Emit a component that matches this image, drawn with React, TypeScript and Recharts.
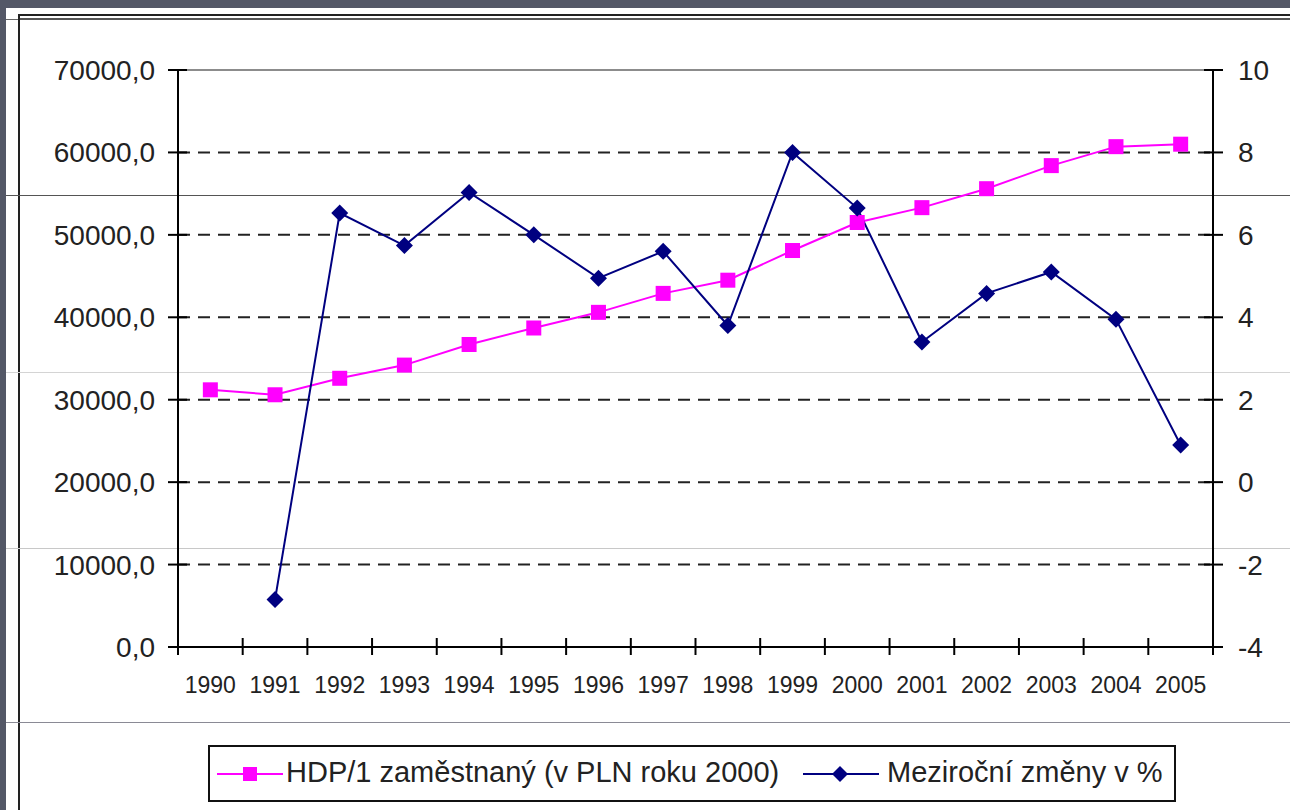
import React from 'react';
import { ComposedChart, Line, XAxis, YAxis, ReferenceLine } from 'recharts';

const years = ['1990', '1991', '1992', '1993', '1994', '1995', '1996', '1997', '1998', '1999', '2000', '2001', '2002', '2003', '2004', '2005'];
const hdpValues = [31200, 30600, 32600, 34200, 36700, 38700, 40600, 42900, 44500, 48100, 51500, 53300, 55600, 58400, 60700, 61000];
const changeValues: (number | null)[] = [null, -2.85, 6.53, 5.74, 7.03, 6.0, 4.95, 5.6, 3.8, 8.0, 6.65, 3.4, 4.58, 5.1, 3.95, 0.9];
const leftTicks = [0, 10000, 20000, 30000, 40000, 50000, 60000, 70000];
const rightTicks = [-4, -2, 0, 2, 4, 6, 8, 10];
const gridValues = [10000, 20000, 30000, 40000, 50000, 60000];
const seriesNames = ['HDP/1 zaměstnaný (v PLN roku 2000)', 'Meziroční změny v %'];

const data = years.map((year, i) => ({ year, hdp: hdpValues[i], change: changeValues[i] }));

const W = 1290;
const H = 810;
const LEFT_W = 178;
const RIGHT_W = 77;
const TOP = 70;
const X_H = 40;
const BOTTOM = 123;
const PLOT_W = W - LEFT_W - RIGHT_W;
const BAND = PLOT_W / years.length;
const FONT = '"Liberation Sans", Arial, sans-serif';
const TEXT = '#222';
const PINK = '#ff00ff';
const NAVY = '#000080';

const fmt = (v: number) => v.toFixed(1).replace('.', ',');

const LeftTick = (p: any) => (
  <g>
    <line x1={p.x - 10} x2={p.x + 9} y1={p.y} y2={p.y} stroke="#000" strokeWidth={2} />
    <text x={p.x - 23} y={p.y} dy={10} textAnchor="end" fontSize={28} fill={TEXT} fontFamily={FONT}>
      {fmt(p.payload.value)}
    </text>
  </g>
);

const RightTick = (p: any) => (
  <g>
    <line x1={p.x - 9} x2={p.x + 10} y1={p.y} y2={p.y} stroke="#000" strokeWidth={2} />
    <text x={p.x + 25} y={p.y} dy={10} textAnchor="start" fontSize={28} fill={TEXT} fontFamily={FONT}>
      {p.payload.value}
    </text>
  </g>
);

const BottomTick = (p: any) => {
  const l = p.x - BAND / 2;
  const r = p.x + BAND / 2;
  return (
    <g>
      <line x1={l} x2={l} y1={p.y - 9} y2={p.y + 8} stroke="#000" strokeWidth={2} />
      {p.index === years.length - 1 && (
        <line x1={r} x2={r} y1={p.y - 9} y2={p.y + 8} stroke="#000" strokeWidth={2} />
      )}
      <text x={p.x} y={p.y + 46} textAnchor="middle" fontSize={23} fill={TEXT} fontFamily={FONT}>
        {p.payload.value}
      </text>
    </g>
  );
};

const SquareDot = (p: any) => {
  if (p.cx == null || p.cy == null || p.value == null) return <g key={p.key} />;
  return <rect key={p.key} x={p.cx - 7.5} y={p.cy - 7.5} width={15} height={15} fill={PINK} />;
};

const DiamondDot = (p: any) => {
  if (p.cx == null || p.cy == null || p.value == null) return <g key={p.key} />;
  const s = 8.5;
  return (
    <path
      key={p.key}
      d={`M${p.cx},${p.cy - s} L${p.cx + s},${p.cy} L${p.cx},${p.cy + s} L${p.cx - s},${p.cy} Z`}
      fill={NAVY}
    />
  );
};

const hline = (top: number, color: string, left = 6, height = 1) => (
  <div style={{ position: 'absolute', left, right: 0, top, height, background: color }} />
);

export default function App() {
  return (
    <div style={{ position: 'absolute', left: 0, top: 0, width: W, height: H, background: '#fff', overflow: 'hidden' }}>
      {/* slide frame */}
      <div style={{ position: 'absolute', left: 0, top: 0, width: W, height: 8, background: '#545867' }} />
      <div style={{ position: 'absolute', left: 0, top: 0, width: 6, height: H, background: '#545867' }} />
      {hline(19, '#666')}
      <div style={{ position: 'absolute', left: 19, right: 0, top: 14, height: 2, background: '#222' }} />
      <div style={{ position: 'absolute', left: 19, right: 0, top: 18, height: 2, background: '#555' }} />
      <div style={{ position: 'absolute', left: 18, top: 14, width: 2, height: H, background: '#222' }} />
      {hline(195, '#555')}
      {hline(372, '#d4d4d4')}
      {hline(548, '#c8c8c8')}
      {hline(722, '#8a8a95')}

      <div style={{ position: 'absolute', left: 0, top: 0 }}>
        <ComposedChart width={W} height={H} data={data} margin={{ top: TOP, right: 0, bottom: BOTTOM, left: 0 }}>
          <XAxis
            dataKey="year"
            scale="band"
            height={X_H}
            interval={0}
            tickSize={0}
            tickMargin={0}
            tickLine={false}
            axisLine={{ stroke: '#000', strokeWidth: 2 }}
            tick={<BottomTick />}
          />
          <YAxis
            yAxisId="left"
            orientation="left"
            width={LEFT_W}
            domain={[0, 70000]}
            ticks={leftTicks}
            interval={0}
            tickSize={0}
            tickMargin={0}
            tickLine={false}
            axisLine={{ stroke: '#000', strokeWidth: 2 }}
            tick={<LeftTick />}
          />
          <YAxis
            yAxisId="right"
            orientation="right"
            width={RIGHT_W}
            domain={[-4, 10]}
            ticks={rightTicks}
            interval={0}
            tickSize={0}
            tickMargin={0}
            tickLine={false}
            axisLine={{ stroke: '#000', strokeWidth: 2 }}
            tick={<RightTick />}
          />
          {gridValues.map((v) => (
            <ReferenceLine key={v} yAxisId="left" y={v} stroke="#222" strokeWidth={2} strokeDasharray="12 8" />
          ))}
          <ReferenceLine yAxisId="left" y={70000} stroke="#8c8c8c" strokeWidth={2} />
          <Line
            yAxisId="left"
            dataKey="hdp"
            name={seriesNames[0]}
            stroke={PINK}
            strokeWidth={2}
            dot={SquareDot}
            activeDot={false}
            isAnimationActive={false}
          />
          <Line
            yAxisId="right"
            dataKey="change"
            name={seriesNames[1]}
            stroke={NAVY}
            strokeWidth={2}
            dot={DiamondDot}
            activeDot={false}
            isAnimationActive={false}
          />
        </ComposedChart>
      </div>

      {/* legend */}
      <div
        style={{
          position: 'absolute',
          left: 208,
          top: 745,
          width: 968,
          height: 57,
          border: '2px solid #111',
          boxSizing: 'border-box',
          fontFamily: FONT,
          fontSize: 29,
          color: TEXT,
        }}
      >
        <svg style={{ position: 'absolute', left: 7, top: 0 }} width={70} height={53}>
          <line x1={0} x2={66} y1={27} y2={27} stroke={PINK} strokeWidth={2} />
          <rect x={26} y={20} width={14} height={14} fill={PINK} />
        </svg>
        <div style={{ position: 'absolute', left: 76, top: 8, whiteSpace: 'nowrap', lineHeight: '34px' }}>{seriesNames[0]}</div>
        <svg style={{ position: 'absolute', left: 593, top: 0 }} width={80} height={53}>
          <line x1={0} x2={76} y1={27} y2={27} stroke={NAVY} strokeWidth={2} />
          <path d="M37,19 L45,27 L37,35 L29,27 Z" fill={NAVY} />
        </svg>
        <div style={{ position: 'absolute', left: 677, top: 8, whiteSpace: 'nowrap', lineHeight: '34px' }}>{seriesNames[1]}</div>
      </div>
    </div>
  );
}
